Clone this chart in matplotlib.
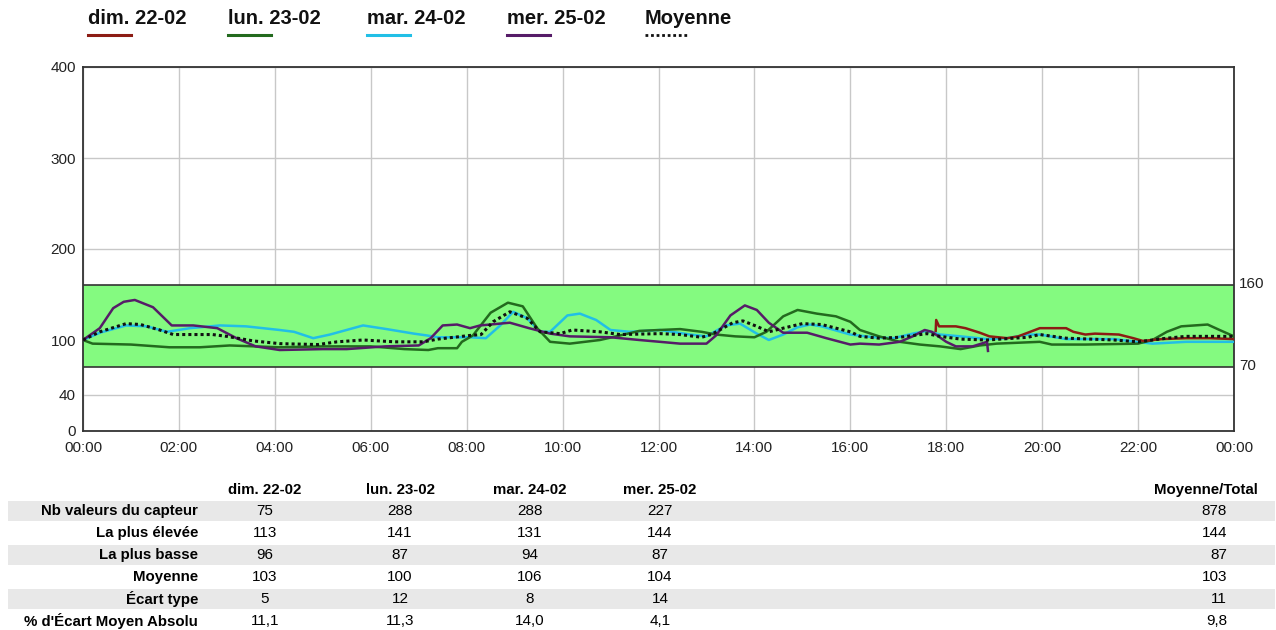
import matplotlib
matplotlib.use("Agg")
import matplotlib.pyplot as plt
from matplotlib.lines import Line2D
from matplotlib.patches import Rectangle

plt.rcParams["font.family"] = ["Liberation Sans", "DejaVu Sans"]

W, H = 1276, 630

# ── données (heures, valeurs) ───────────────────────────────────────
dim_h = [17.78, 17.79, 17.85, 18.2, 18.4, 18.7, 18.9, 19.27, 19.5, 19.75, 19.95,
         20.5, 20.65, 20.9, 21.1, 21.6, 21.9, 22.1, 22.5, 23.0, 23.5, 24.0]
dim_v = [110, 122, 115, 115, 113, 108, 104, 102, 104, 109, 113,
         113, 109, 106, 107, 106, 102, 99, 101, 102, 102, 101]

lun_h = [0, 0.2, 1.0, 1.8, 2.44, 3.06, 4.1, 5.0, 6.0, 6.7, 7.2, 7.4, 7.8, 7.9,
         8.13, 8.5, 8.86, 9.17, 9.47, 9.74, 10.15, 10.78, 11.2, 11.6, 12.03,
         12.45, 12.9, 13.2, 13.6, 14.0, 14.25, 14.6, 14.9, 15.3, 15.7, 16.0,
         16.2, 16.6, 17.03, 17.45, 17.87, 18.3, 18.7, 19.05, 19.95, 20.2, 20.9,
         22.0, 22.3, 22.6, 22.9, 23.45, 23.7, 24.0]
lun_v = [100, 96, 95, 92, 92, 94, 92, 93, 93, 90, 89, 91, 91, 98,
         105, 130, 141, 137, 113, 98, 96, 100, 105, 110, 111,
         112, 109, 106, 104, 103, 109, 126, 133, 129, 126, 120,
         111, 104, 98, 95, 93, 90, 94, 96, 98, 95, 95,
         96, 100, 109, 115, 117, 111, 104]

mar_h = [0, 0.35, 0.9, 1.33, 1.75, 2.23, 2.86, 3.4, 4.1, 4.4, 4.8, 5.15, 5.84,
         6.33, 6.9, 7.17, 7.4, 8.07, 8.4, 8.7, 8.97, 9.26, 9.53, 9.74, 10.1,
         10.36, 10.7, 11.0, 11.4, 12.03, 12.66, 13.0, 13.4, 13.7, 14.05, 14.3,
         14.6, 14.9, 15.16, 15.4, 16.0, 16.5, 16.9, 17.3, 17.6, 17.87, 18.3,
         18.85, 19.27, 19.7, 19.95, 20.5, 21.5, 22.3, 23.0, 24.0]
mar_v = [100, 108, 116, 115, 109, 113, 116, 115, 111, 109, 102, 106, 116,
         112, 107, 105, 103, 103, 102, 116, 131, 124, 109, 109, 127,
         129, 122, 111, 109, 111, 106, 104, 116, 118, 107, 100,
         106, 114, 117, 115, 106, 103, 102, 107, 110, 106, 104,
         101, 102, 106, 106, 101, 101, 96, 98, 98]

mer_h = [0, 0.35, 0.63, 0.85, 1.08, 1.46, 1.85, 2.3, 2.8, 3.2, 3.6, 4.1, 5.0,
         5.5, 6.3, 7.0, 7.25, 7.5, 7.8, 8.07, 8.28, 8.9, 9.3, 9.74, 10.15, 11.0,
         11.6, 12.03, 12.45, 13.0, 13.2, 13.5, 13.8, 14.05, 14.3, 14.6, 15.1,
         15.5, 16.0, 16.2, 16.6, 17.03, 17.3, 17.55, 17.7, 18.0, 18.2, 18.55,
         18.85, 18.87]
mer_v = [100, 113, 135, 142, 144, 136, 116, 116, 113, 102, 93, 89, 90,
         90, 93, 94, 102, 116, 117, 113, 116, 119, 113, 107, 104, 103,
         100, 98, 96, 96, 105, 127, 138, 133, 119, 108, 108,
         102, 95, 96, 95, 98, 104, 111, 109, 98, 93, 93,
         98, 88]

moy_h = [0, 0.35, 0.9, 1.2, 1.6, 1.88, 2.7, 3.0, 3.55, 4.1, 4.9, 5.3, 5.84,
         6.5, 7.1, 7.4, 8.07, 8.3, 8.55, 8.9, 9.26, 9.53, 9.95, 10.2, 10.78,
         11.2, 12.03, 12.45, 12.9, 13.1, 13.55, 13.76, 14.05, 14.3, 14.6, 15.0,
         15.4, 16.0, 16.2, 16.6, 17.03, 17.6, 17.87, 18.3, 18.85, 19.7, 19.95,
         20.5, 21.5, 22.0, 22.6, 23.0, 24.0]
moy_v = [100, 109, 118, 117, 111, 106, 106, 104, 99, 96, 95, 98, 100,
         98, 98, 101, 105, 106, 120, 131, 124, 109, 107, 111, 109,
         106, 107, 106, 103, 106, 119, 121, 115, 109, 113, 118,
         117, 109, 104, 102, 103, 107, 104, 101, 100, 103, 106,
         102, 100, 98, 102, 104, 104]

cible_bas, cible_haut = 70, 160
y_ticks = [0, 40, 100, 200, 300, 400]
x_ticks = list(range(0, 25, 2))
x_labels = [f"{h % 24:02d}:00" for h in x_ticks]

jours = ["dim. 22-02", "lun. 23-02", "mar. 24-02", "mer. 25-02"]
lignes = ["Nb valeurs du capteur", "La plus élevée", "La plus basse",
          "Moyenne", "Écart type", "% d'Écart Moyen Absolu"]
stats = [["75", "288", "288", "227"],
         ["113", "141", "131", "144"],
         ["96", "87", "94", "87"],
         ["103", "100", "106", "104"],
         ["5", "12", "8", "14"],
         ["11,1", "11,3", "14,0", "4,1"]]
totaux = ["878", "144", "87", "103", "11", "9,8"]

COLORS = {"dim": "#8c1c14", "lun": "#236a1e", "mar": "#22bfe6",
          "mer": "#561c68", "moy": "#111111"}


def fx(px):
    return px / W


def fy(py):
    return 1 - py / H


fig = plt.figure(figsize=(W / 100, H / 100), dpi=100)
ax = fig.add_axes([fx(83), fy(431), fx(1234 - 83), (431 - 67) / H])

ax.axhspan(cible_bas, cible_haut, facecolor="#84fa80", edgecolor="none", zorder=1)
ax.axhline(cible_haut, color="#333333", lw=1.2, zorder=2)
ax.axhline(cible_bas, color="#333333", lw=1.2, zorder=2)

lw = 1.8
ax.plot(mar_h, mar_v, color=COLORS["mar"], lw=lw, zorder=3)
ax.plot(lun_h, lun_v, color=COLORS["lun"], lw=lw, zorder=3)
ax.plot(dim_h, dim_v, color=COLORS["dim"], lw=lw, zorder=3)
ax.plot(mer_h, mer_v, color=COLORS["mer"], lw=lw, zorder=4)
ax.plot(moy_h, moy_v, color=COLORS["moy"], lw=2.2, ls=(0, (1, 1)), zorder=5)

ax.set_xlim(0, 24)
ax.set_ylim(0, 400)
ax.set_xticks(x_ticks, x_labels)
ax.set_yticks(y_ticks)
ax.tick_params(length=0, labelsize=11, colors="#222222", pad=5)
ax.tick_params(axis="x", pad=7)
ax.grid(color="#c8c8c8", lw=1, zorder=0)
ax.set_axisbelow(True)
for s in ax.spines.values():
    s.set_color("#333333")
    s.set_linewidth(1.3)

ax.text(24.1, cible_haut + 2, "160", fontsize=11, va="center", ha="left",
        color="#222222", clip_on=False)
ax.text(24.1, cible_bas + 1, "70", fontsize=11, va="center", ha="left",
        color="#222222", clip_on=False)

# ── légende du haut ───────────────────────────────────────────────────
leg = [("dim. 22-02", 88, COLORS["dim"], "-"), ("lun. 23-02", 228, COLORS["lun"], "-"),
       ("mar. 24-02", 367, COLORS["mar"], "-"), ("mer. 25-02", 507, COLORS["mer"], "-"),
       ("Moyenne", 645, COLORS["moy"], (0, (1, 1)))]
for txt, x0, col, st in leg:
    fig.text(fx(x0), fy(19), txt, fontsize=14.5, fontweight="bold", va="center",
             ha="left", color="#111111")
    fig.add_artist(Line2D([fx(x0), fx(x0 + 43)], [fy(35), fy(35)], color=col,
                          lw=2.2 if st == "-" else 2.0, ls=st))

# ── tableau des statistiques ─────────────────────────────────────────
col_x = [265, 400, 530, 660]
row_y = [511, 533, 555, 577, 599, 621]
for i, y in enumerate(row_y):
    if i % 2 == 0:
        fig.add_artist(Rectangle((fx(8), fy(y + 10)), fx(1275 - 8), 20 / H,
                                 facecolor="#e8e8e8", edgecolor="none", zorder=0))
for j, jour in enumerate(jours):
    fig.text(fx(col_x[j]), fy(490), jour, fontsize=10.8, fontweight="bold",
             ha="center", va="center")
fig.text(fx(1258), fy(490), "Moyenne/Total", fontsize=10.8, fontweight="bold",
         ha="right", va="center")
for i, lab in enumerate(lignes):
    fig.text(fx(198), fy(row_y[i]), lab, fontsize=10.8, fontweight="bold",
             ha="right", va="center")
    for j in range(len(jours)):
        fig.text(fx(col_x[j]), fy(row_y[i]), stats[i][j], fontsize=11,
                 ha="center", va="center")
    fig.text(fx(1227), fy(row_y[i]), totaux[i], fontsize=11, ha="right", va="center")

fig.savefig("out.png", dpi=100)
